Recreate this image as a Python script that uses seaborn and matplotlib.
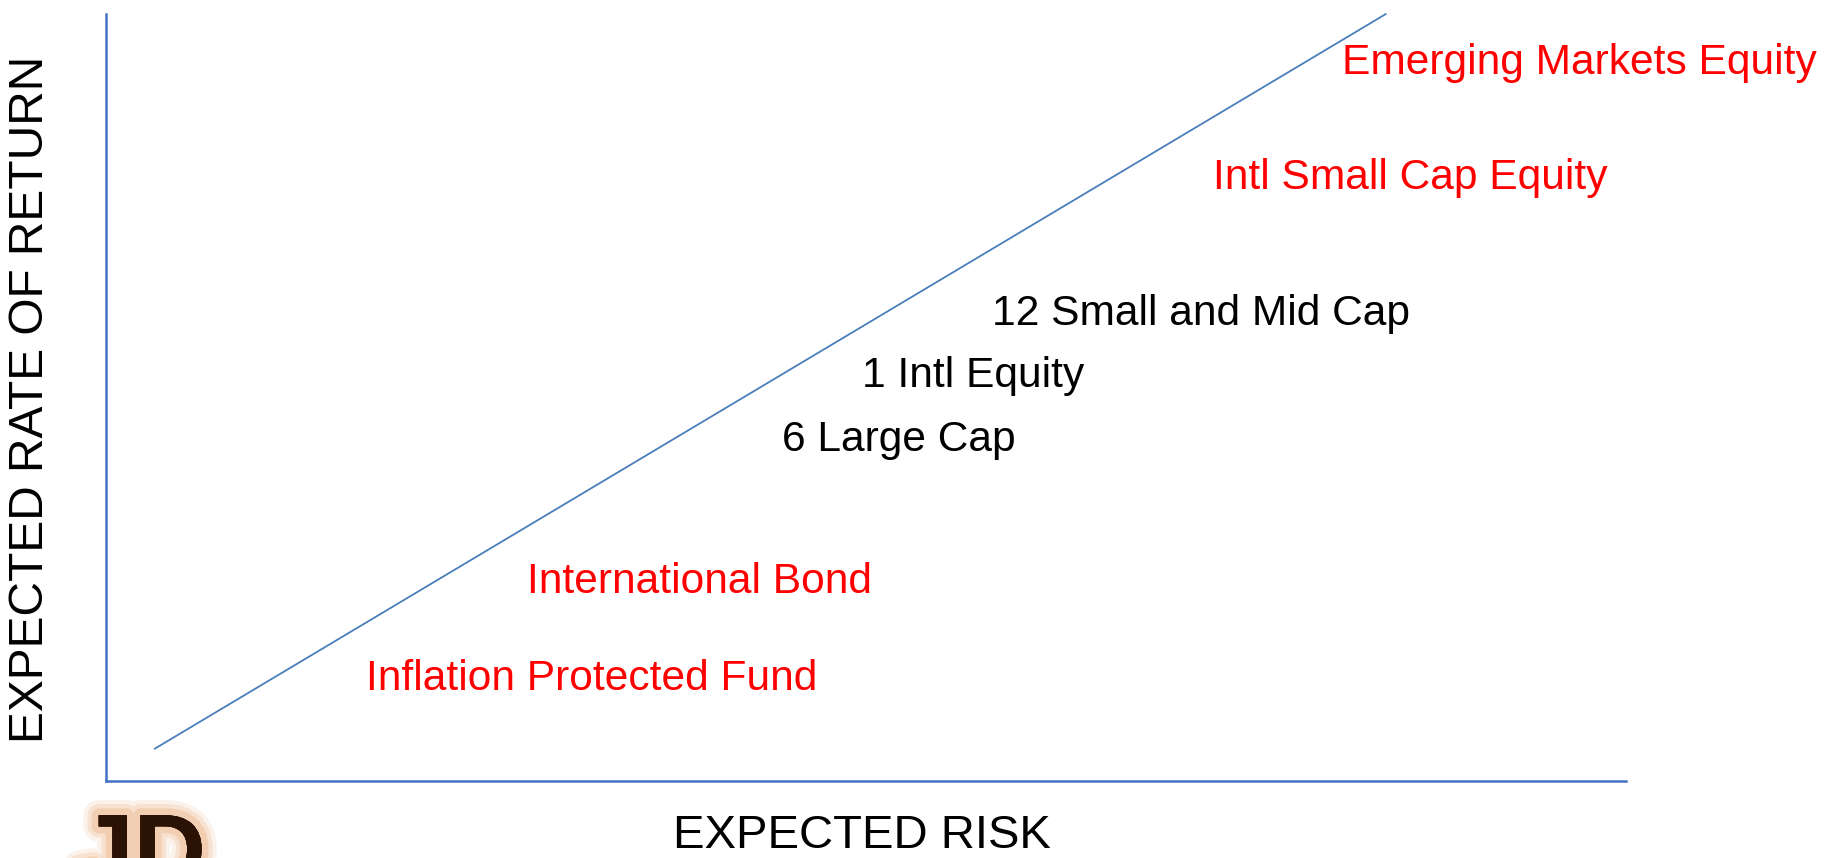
import matplotlib
matplotlib.use("Agg")
import matplotlib.pyplot as plt
import matplotlib.patheffects as pe
import seaborn as sns
import pandas as pd

# Risk / return trade-off line (arbitrary 0-100 scale on both axes)
line_risk = [3.2, 84.2]
line_return = [4.2, 100.0]

# Asset classes placed along the trade-off
asset_names = [
    "Emerging Markets Equity",
    "Intl Small Cap Equity",
    "12 Small and Mid Cap",
    "1 Intl Equity",
    "6 Large Cap",
    "International Bond",
    "Inflation Protected Fund",
]
asset_risk = [81.3, 72.85, 58.3, 49.75, 44.5, 27.7, 17.1]
asset_return = [92.2, 77.15, 59.5, 51.4, 43.0, 24.5, 11.9]
asset_colors = ["#FF0000", "#FF0000", "#000000", "#000000", "#000000", "#FF0000", "#FF0000"]

x_label = "EXPECTED RISK"
y_label = "EXPECTED RATE OF RETURN"
logo_text = "JD"

sns.set_theme(style="white")
plt.rcParams["font.family"] = ["Liberation Sans", "DejaVu Sans"]

W, H = 1825, 858
fig = plt.figure(figsize=(W / 100, H / 100), dpi=100)
ax = fig.add_axes([106 / W, (H - 781) / H, (1626 - 106) / W, (781 - 14) / H])

df = pd.DataFrame({"risk": line_risk, "ret": line_return})
sns.lineplot(data=df, x="risk", y="ret", ax=ax, color="#4A7EBB", linewidth=1.3,
             clip_on=False)

for name, xr, yr, col in zip(asset_names, asset_risk, asset_return, asset_colors):
    ax.text(xr, yr, name, color=col, fontsize=30.6, ha="left", va="baseline")

ax.set_xlim(0, 100)
ax.set_ylim(0, 100)
ax.set_xticks([])
ax.set_yticks([])
ax.set_xlabel("")
ax.set_ylabel("")
for side in ("top", "right"):
    ax.spines[side].set_visible(False)
for side in ("left", "bottom"):
    ax.spines[side].set_color("#4472C4")
    ax.spines[side].set_linewidth(1.8)

fig.text(861.5 / W, (H - 848) / H, x_label, fontsize=34, ha="center", va="baseline",
         color="#000000")
fig.text(31 / W, (H - 399) / H, y_label, fontsize=34.5, ha="center", va="center",
         rotation=90, color="#000000")

# Brand mark in the lower-left corner, dark letters with a soft orange glow
glow = [pe.withStroke(linewidth=w, foreground="#E59A5C", alpha=a)
        for w, a in ((22, 0.12), (16, 0.18), (10, 0.25))]
fig.text(78 / W, (H - 884) / H, logo_text, fontsize=72, fontweight="bold",
         color="#2A1204", ha="left", va="baseline",
         path_effects=glow + [pe.Normal()])

fig.savefig("out.png", dpi=100, facecolor="white")
